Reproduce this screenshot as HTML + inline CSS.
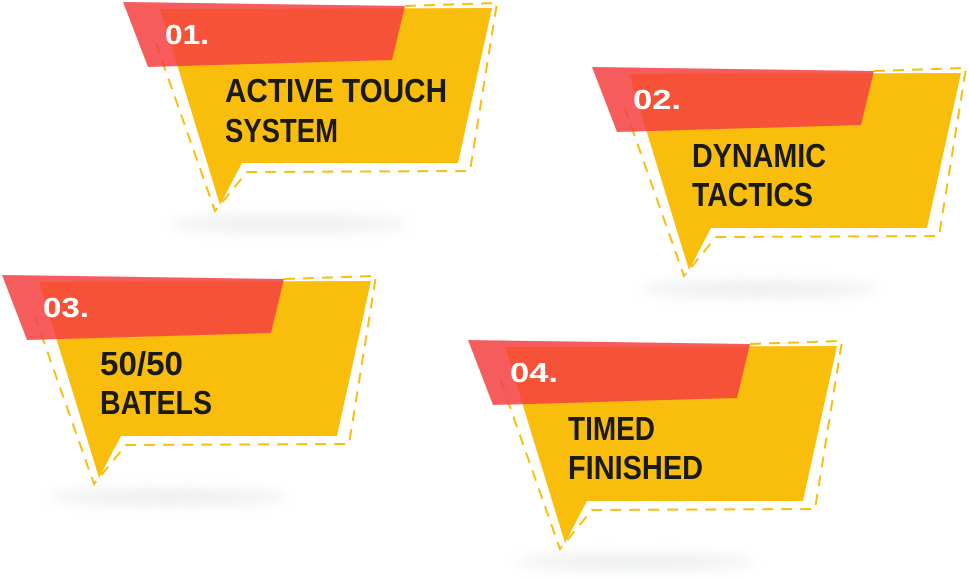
<!DOCTYPE html>
<html><head><meta charset="utf-8"><style>
html,body{margin:0;padding:0;background:#fff;width:969px;height:581px;overflow:hidden}
svg{display:block}
text{font-family:"Liberation Sans",sans-serif;font-weight:bold}
</style></head><body>
<svg width="969" height="581" viewBox="0 0 969 581" xmlns="http://www.w3.org/2000/svg">
<defs>
<filter id="b" x="-50%" y="-200%" width="200%" height="500%"><feGaussianBlur stdDeviation="7"/></filter>
<g id="bub">
<ellipse cx="290" cy="224" rx="120" ry="7" fill="#dcdfdf" opacity="0.6" filter="url(#b)"/>
<path d="M405,6 L497,3 L470,171 L247,172 L215,211 L153,35" fill="none" stroke="#f9bd0e" stroke-width="2" stroke-dasharray="11 8"/>
<path d="M160,9 L492,8 L458,163 L242,163 L220,205 Z" fill="#f9bd0b"/>
<path d="M123,2 L405,6 L392,60 L148,67 Z" fill="#f63f3f" opacity="0.85"/>
</g>
</defs>
<use href="#bub"/>
<use href="#bub" transform="translate(469,65)"/>
<use href="#bub" transform="translate(-121,273)"/>
<use href="#bub" transform="translate(345,338)"/>
<g fill="#fff" font-size="28">
<text x="165" y="44" textLength="44" lengthAdjust="spacingAndGlyphs">01.</text>
<text x="633" y="109" textLength="48" lengthAdjust="spacingAndGlyphs">02.</text>
<text x="43" y="317" textLength="46" lengthAdjust="spacingAndGlyphs">03.</text>
<text x="510" y="382" textLength="48" lengthAdjust="spacingAndGlyphs">04.</text>
</g>
<g fill="#1a1a1a" font-size="33" lengthAdjust="spacingAndGlyphs">
<text x="225" y="102" textLength="222" lengthAdjust="spacingAndGlyphs">ACTIVE TOUCH</text>
<text x="225" y="142" textLength="113" lengthAdjust="spacingAndGlyphs">SYSTEM</text>
<text x="692" y="167" textLength="134" lengthAdjust="spacingAndGlyphs">DYNAMIC</text>
<text x="692" y="206" textLength="121" lengthAdjust="spacingAndGlyphs">TACTICS</text>
<text x="100" y="375" textLength="83" lengthAdjust="spacingAndGlyphs">50/50</text>
<text x="100" y="414" textLength="112" lengthAdjust="spacingAndGlyphs">BATELS</text>
<text x="568" y="440" textLength="87" lengthAdjust="spacingAndGlyphs">TIMED</text>
<text x="568" y="479" textLength="135" lengthAdjust="spacingAndGlyphs">FINISHED</text>
</g>
</svg>
</body></html>
